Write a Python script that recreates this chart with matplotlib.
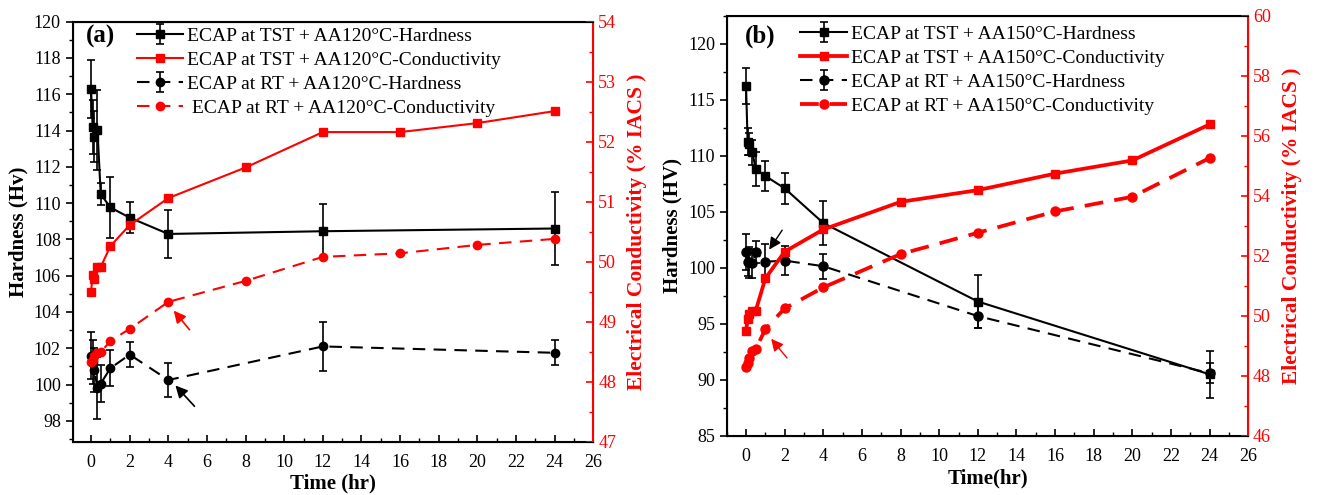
import matplotlib
matplotlib.use('Agg')
import matplotlib.pyplot as plt
from matplotlib.ticker import MultipleLocator

plt.rcParams['font.family'] = ['Liberation Serif', 'DejaVu Serif']

# ---------------- data ----------------
t_hard = [0, 0.083, 0.167, 0.333, 0.5, 1, 2, 4, 12, 24]
t_cond = [0, 0.083, 0.167, 0.333, 0.5, 1, 2, 4, 8, 12, 16, 20, 24]

# panel (a) AA120
a_tst_hard = [116.27, 114.2, 113.66, 114.03, 110.5, 109.76, 109.2, 108.3, 108.45, 108.6]
a_tst_hard_err = [1.6, 1.5, 1.4, 2.2, 0.6, 1.7, 0.85, 1.3, 1.5, 2.0]
a_rt_hard = [101.6, 101.25, 100.8, 99.8, 100.05, 100.9, 101.65, 100.25, 102.1, 101.75]
a_rt_hard_err = [1.3, 1.2, 1.2, 1.7, 1.0, 1.0, 0.7, 0.95, 1.35, 0.7]
a_tst_cond = [49.5, 49.77, 49.71, 49.91, 49.91, 50.26, 50.61, 51.06, 51.57, 52.16, 52.16, 52.31, 52.51]
a_rt_cond = [48.32, 48.36, 48.42, 48.48, 48.49, 48.68, 48.88, 49.33, 49.68, 50.08, 50.14, 50.28, 50.38]

# panel (b) AA150
b_tst_hard = [116.2, 111.25, 111.05, 110.3, 108.8, 108.2, 107.1, 104.0, 97.0, 90.5]
b_tst_hard_err = [1.6, 1.2, 1.0, 1.1, 1.5, 1.3, 1.4, 1.95, 2.4, 2.1]
b_rt_hard = [101.4, 100.5, 100.5, 100.4, 101.4, 100.55, 100.65, 100.15, 95.7, 90.6]
b_rt_hard_err = [1.6, 1.2, 1.4, 1.3, 1.0, 1.6, 1.3, 1.1, 1.1, 0.9]
b_tst_cond = [49.5, 49.89, 50.06, 50.17, 50.17, 51.25, 52.14, 52.88, 53.8, 54.19, 54.74, 55.18, 56.38]
b_rt_cond = [48.31, 48.42, 48.6, 48.84, 48.89, 49.56, 50.25, 50.95, 52.06, 52.77, 53.48, 53.97, 55.26]

x_ticks = list(range(0, 27, 2))

RED = '#ff0000'

fig = plt.figure(figsize=(13.17, 4.95), dpi=100)


def style_axes(ax, ax2, ylim, ymaj, ymin, y2lim, y2maj, y2min, xlabel, ylabel):
    ax.set_xlim(-0.95, 26)
    ax.set_ylim(*ylim)
    ax2.set_ylim(*y2lim)
    ax.set_xticks(x_ticks)
    ax.xaxis.set_minor_locator(MultipleLocator(1))
    ax.yaxis.set_major_locator(MultipleLocator(ymaj))
    ax.yaxis.set_minor_locator(MultipleLocator(ymin))
    ax2.yaxis.set_major_locator(MultipleLocator(y2maj))
    ax2.yaxis.set_minor_locator(MultipleLocator(y2min))
    ax.tick_params(axis='x', which='major', direction='in', length=5, width=1.2, labelsize=13, pad=9)
    ax.tick_params(axis='x', which='minor', direction='in', length=3, width=1.0)
    ax.tick_params(axis='y', which='major', direction='out', length=5, width=1.2, labelsize=13)
    ax.tick_params(axis='y', which='minor', direction='out', length=3, width=1.0)
    ax2.tick_params(axis='y', which='major', direction='in', length=5, width=1.2,
                    labelsize=13, colors=RED)
    ax2.tick_params(axis='y', which='minor', direction='in', length=3, width=1.0, colors=RED)
    for s in ['left', 'bottom', 'top']:
        ax.spines[s].set_linewidth(1.5)
    ax2.spines['right'].set_color(RED)
    ax2.spines['right'].set_linewidth(1.5)
    ax.set_xlabel(xlabel, fontsize=15, fontweight='bold', labelpad=2)
    ax.set_ylabel(ylabel, fontsize=15, fontweight='bold')
    ax2.set_ylabel('Electrical Conductivity (% IACS )', fontsize=15.5, fontweight='bold',
                   color=RED, labelpad=8)


# ---------------- panel (a) ----------------
axa = fig.add_axes([0.0552, 0.1077, 0.3953, 0.8485])
axa2 = axa.twinx()
style_axes(axa, axa2, (96.85, 120), 2, 1, (47, 54), 1, 0.5, 'Time (hr)', 'Hardness (Hv)')

h1 = axa.errorbar(t_hard, a_tst_hard, yerr=a_tst_hard_err, color='black', lw=1.5, marker='s',
                  ms=5.5, capsize=3, elinewidth=1.2, capthick=1.2,
                  label='ECAP at TST + AA120°C-Hardness')
h3 = axa.errorbar(t_hard, a_rt_hard, yerr=a_rt_hard_err, color='black', lw=1.5, marker='o',
                  ms=6, capsize=3, elinewidth=1.2, capthick=1.2, dashes=(6, 4),
                  label='ECAP at RT + AA120°C-Hardness')
h2, = axa2.plot(t_cond, a_tst_cond, color=RED, lw=1.5, marker='s', ms=5.5,
                label='ECAP at TST + AA120°C-Conductivity')
h4, = axa2.plot(t_cond, a_rt_cond, color=RED, lw=1.5, marker='o', ms=6, dashes=(6, 4),
                label=' ECAP at RT + AA120°C-Conductivity')

axa.annotate('', xy=(4.27, 100.06), xytext=(5.45, 98.69),
             arrowprops=dict(arrowstyle='-|>', color='black', lw=1.2, mutation_scale=18))
axa2.annotate('', xy=(4.19, 49.22), xytext=(5.19, 48.83),
              arrowprops=dict(arrowstyle='-|>', color=RED, lw=1.2, mutation_scale=18))

axa.text(0.025, 0.965, '(a)', transform=axa.transAxes, fontsize=18, fontweight='bold',
         va='center', ha='left')
axa2.legend([h1, h2, h3, h4], [h1.get_label(), h2.get_label(), h3.get_label(), h4.get_label()],
            loc='upper left', bbox_to_anchor=(0.097, 1.019), frameon=False, fontsize=14,
            handlelength=2.4, handletextpad=0.2, labelspacing=0.33, borderpad=0.2)

# ---------------- panel (b) ----------------
axb = fig.add_axes([0.5518, 0.1192, 0.3960, 0.8490])
axb2 = axb.twinx()
style_axes(axb, axb2, (85, 122.5), 5, 2.5, (46, 60), 2, 1, 'Time(hr)', 'Hardness (HV)')
axb.set_xlim(-1.0, 26)

g1 = axb.errorbar(t_hard, b_tst_hard, yerr=b_tst_hard_err, color='black', lw=1.5, marker='s',
                  ms=6, capsize=3, elinewidth=1.2, capthick=1.2,
                  label='ECAP at TST + AA150°C-Hardness')
g3 = axb.errorbar(t_hard, b_rt_hard, yerr=b_rt_hard_err, color='black', lw=1.5, marker='o',
                  ms=6.5, capsize=3, elinewidth=1.2, capthick=1.2, dashes=(6, 4),
                  label='ECAP at RT + AA150°C-Hardness')
g2, = axb2.plot(t_cond, b_tst_cond, color=RED, lw=2.7, marker='s', ms=6,
                label='ECAP at TST + AA150°C-Conductivity')
g4, = axb2.plot(t_cond, b_rt_cond, color=RED, lw=2.7, marker='o', ms=6.5, dashes=(5, 3),
                label='ECAP at RT + AA150°C-Conductivity')

axb.annotate('', xy=(1.12, 101.43), xytext=(1.95, 103.57),
             arrowprops=dict(arrowstyle='-|>', color='black', lw=1.0, mutation_scale=18))
axb2.annotate('', xy=(1.21, 49.31), xytext=(2.21, 48.53),
              arrowprops=dict(arrowstyle='-|>', color=RED, lw=1.0, mutation_scale=18))

axb.text(0.035, 0.95, '(b)', transform=axb.transAxes, fontsize=18, fontweight='bold',
         va='center', ha='left')
axb2.legend([g1, g2, g3, g4], [g1.get_label(), g2.get_label(), g3.get_label(), g4.get_label()],
            loc='upper left', bbox_to_anchor=(0.115, 1.01), frameon=False, fontsize=14,
            handlelength=2.4, handletextpad=0.2, labelspacing=0.33, borderpad=0.2)

fig.savefig('out.png', dpi=100)
